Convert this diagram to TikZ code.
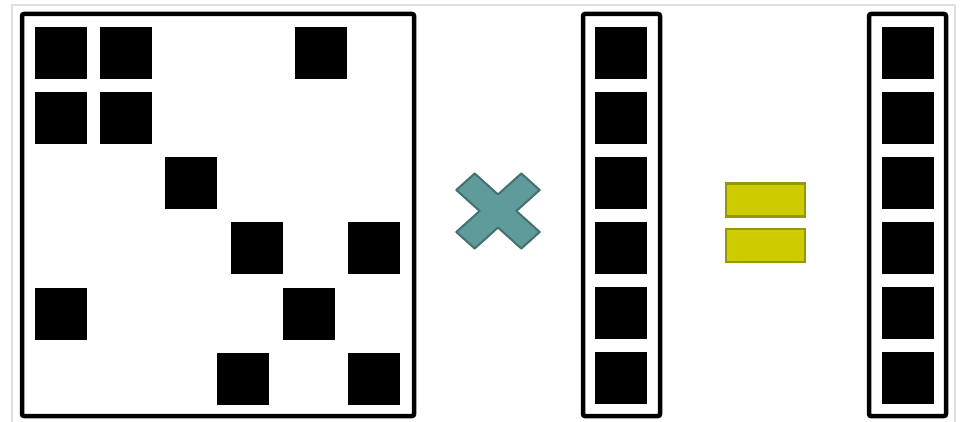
\documentclass[tikz,border=0pt]{standalone}
\usepackage{tikz}
\usetikzlibrary{positioning}
\usepackage{xcolor}
\definecolor{crossfill}{RGB}{95,155,155}
\definecolor{crossline}{RGB}{68,112,112}
\definecolor{eqfill}{RGB}{204,204,0}
\definecolor{eqline}{RGB}{150,150,10}

\begin{document}
\begin{tikzpicture}[
    x=1pt, y=-1pt,
    frame/.style={
        draw,
        line width=4.5pt,
        rounded corners=2pt,
        inner sep=0pt,
        outer sep=0pt
    },
    cell/.style={
        fill=black,
        minimum size=52pt,
        inner sep=0pt,
        outer sep=0pt,
        anchor=north west
    },
    bar/.style={
        draw=eqline,
        fill=eqfill,
        line width=2.5pt,
        minimum width=79pt,
        inner sep=0pt
    }
]
\useasboundingbox (0,0) rectangle (961,422);

% outer grey border
\draw[gray!25, line width=2pt] (12,422) -- (12,5) -- (955,5) -- (955,422);

% sparse matrix
\node[frame, minimum width=392pt, minimum height=402pt] (mat) at (218,215) {};
\foreach \x/\y [count=\i] in {35/27, 100/27, 295/27, 35/92, 100/92, 165/157,
                              231/222, 348/222, 35/288, 283/288, 217/353, 348/353}
    \node[cell] (m\i) at (\x,\y) {};

% times sign
\coordinate (times) at (498,211);
\begin{scope}[shift={(times)}, yscale=0.9, rotate=45]
    \filldraw[fill=crossfill, draw=crossline, line width=2pt, line join=round]
        (13,13) -- (46,13) -- (46,-13) -- (13,-13) -- (13,-46) -- (-13,-46)
        -- (-13,-13) -- (-46,-13) -- (-46,13) -- (-13,13) -- (-13,46)
        -- (13,46) -- cycle;
\end{scope}

% input vector
\node[frame, minimum width=77pt, minimum height=402pt] (vin) at (621.5,215) {};
\foreach \y [count=\i] in {27,92,157,222,287,352}
    \node[cell] (a\i) at (595,\y) {};

% equals sign
\node[bar, minimum height=33pt] (eqtop) at (765.5,200) {};
\node[bar, minimum height=33pt] (eqbot) at (765.5,245.5) {};

% output vector
\node[frame, minimum width=77pt, minimum height=402pt] (vout) at (907.5,215) {};
\foreach \y [count=\i] in {27,92,157,222,287,352}
    \node[cell] (b\i) at (881.5,\y) {};

\end{tikzpicture}
\end{document}
